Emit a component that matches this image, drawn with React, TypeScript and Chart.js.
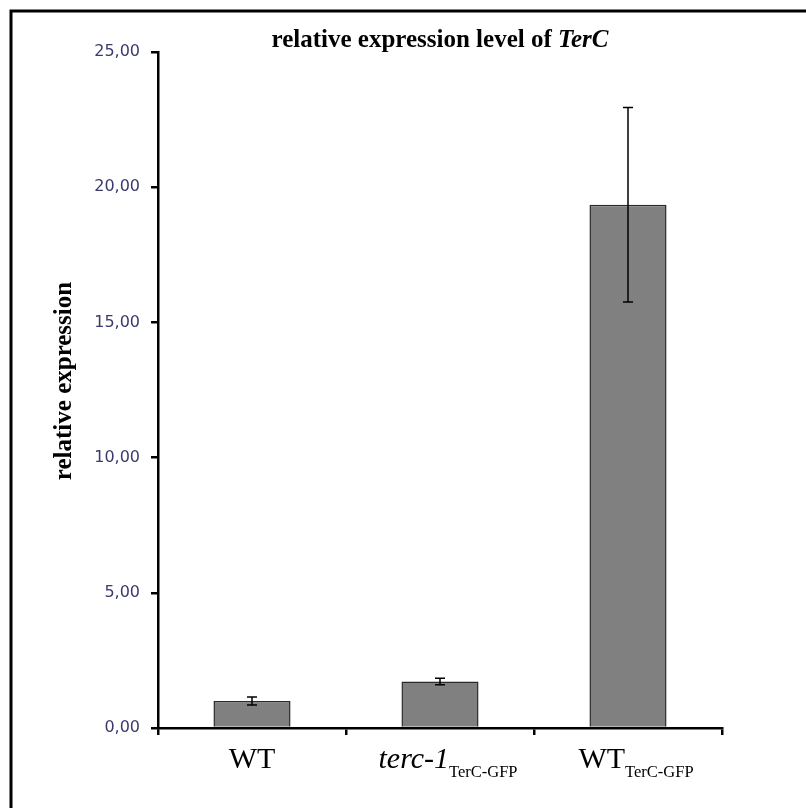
import React, { useEffect, useRef } from "react";
import { Chart, registerables } from "chart.js";

Chart.register(...registerables);

const categories = ["WT", "terc-1", "WT"];
const subscripts = ["", "TerC-GFP", "TerC-GFP"];
const italicMain = [false, true, false];
const values = [1.0, 1.72, 19.35];
const errors = [0.15, 0.12, 3.6];
const yMin = 0;
const yMax = 25;
const yStep = 5;
const titleMain = "relative expression level of ";
const titleItalic = "TerC";
const yTitle = "relative expression";

const SERIF = "'Liberation Serif', 'Times New Roman', serif";

const errorBarPlugin = {
  id: "errorBars",
  afterDatasetsDraw(chart: any) {
    const ctx = chart.ctx;
    const meta = chart.getDatasetMeta(0);
    const ys = chart.scales.y;
    ctx.save();
    ctx.strokeStyle = "#000";
    ctx.lineWidth = 1.5;
    meta.data.forEach((el: any, i: number) => {
      const x = el.x;
      const top = ys.getPixelForValue(values[i] + errors[i]);
      const bot = ys.getPixelForValue(values[i] - errors[i]);
      const cap = 5;
      ctx.beginPath();
      ctx.moveTo(x, top);
      ctx.lineTo(x, bot);
      ctx.moveTo(x - cap, top);
      ctx.lineTo(x + cap, top);
      ctx.moveTo(x - cap, bot);
      ctx.lineTo(x + cap, bot);
      ctx.stroke();
    });
    ctx.restore();
  },
};

const textPlugin = {
  id: "texts",
  afterDraw(chart: any) {
    const ctx = chart.ctx;
    const area = chart.chartArea;
    const xs = chart.scales.x;
    ctx.save();
    ctx.fillStyle = "#000";
    ctx.textBaseline = "alphabetic";

    // frame
    ctx.strokeStyle = "#000";
    ctx.lineWidth = 3;
    ctx.beginPath();
    ctx.moveTo(11, chart.height);
    ctx.lineTo(11, 11);
    ctx.lineTo(chart.width, 11);
    ctx.stroke();

    // title
    const fMain = `bold 25px ${SERIF}`;
    const fIt = `italic bold 25px ${SERIF}`;
    ctx.font = fMain;
    const w1 = ctx.measureText(titleMain).width;
    ctx.font = fIt;
    const w2 = ctx.measureText(titleItalic).width;
    const cx = (area.left + area.right) / 2;
    const sx = cx - (w1 + w2) / 2;
    ctx.textAlign = "left";
    ctx.font = fMain;
    ctx.fillText(titleMain, sx, 47);
    ctx.font = fIt;
    ctx.fillText(titleItalic, sx + w1, 47);

    // y title
    ctx.save();
    ctx.translate(71, 381);
    ctx.rotate(-Math.PI / 2);
    ctx.font = `bold 25px ${SERIF}`;
    ctx.textAlign = "center";
    ctx.fillText(yTitle, 0, 0);
    ctx.restore();

    // x labels
    categories.forEach((lab, i) => {
      const c = xs.getPixelForValue(i);
      const fm = `${italicMain[i] ? "italic " : ""}30px ${SERIF}`;
      const fs = `16.5px ${SERIF}`;
      ctx.font = fm;
      const mw = ctx.measureText(lab).width;
      ctx.font = fs;
      const sw = subscripts[i] ? ctx.measureText(subscripts[i]).width : 0;
      const start = c - (mw + sw) / 2 + (subscripts[i] ? 8 : 0);
      ctx.textAlign = "left";
      ctx.font = fm;
      ctx.fillText(lab, start, 768);
      if (subscripts[i]) {
        ctx.font = fs;
        ctx.fillText(subscripts[i], start + mw, 777);
      }
    });
    ctx.restore();
  },
};

export default function App() {
  const ref = useRef<HTMLCanvasElement>(null);
  useEffect(() => {
    if (!ref.current) return;
    const chart = new Chart(ref.current, {
      type: "bar",
      data: {
        labels: categories,
        datasets: [
          {
            data: values,
            backgroundColor: "#808080",
            borderColor: "#2a2a2a",
            borderWidth: 1.5,
            barPercentage: 0.41,
            categoryPercentage: 1,
          },
        ],
      },
      options: {
        responsive: false,
        animation: false,
        layout: { padding: { left: 0, top: 52, right: 84, bottom: 0 } },
        plugins: {
          legend: { display: false },
          tooltip: { enabled: false },
          title: { display: false },
        },
        scales: {
          x: {
            grid: {
              offset: true,
              drawOnChartArea: false,
              drawTicks: true,
              tickLength: 7,
              color: "#000",
              lineWidth: 2.5,
            },
            border: { display: true, color: "#000", width: 2.5 },
            ticks: { callback: () => "" },
            afterFit: (s: any) => {
              s.height = 80;
            },
          },
          y: {
            min: yMin,
            max: yMax,
            ticks: {
              stepSize: yStep,
              callback: (v: any) => Number(v).toFixed(2).replace(".", ","),
              font: { family: "'DejaVu Sans', sans-serif", size: 16 },
              color: "#3a3a6e",
              padding: 11,
            },
            grid: {
              drawOnChartArea: false,
              drawTicks: true,
              tickLength: 7,
              color: "#000",
              lineWidth: 2.5,
            },
            border: { display: true, color: "#000", width: 2.5 },
            afterFit: (s: any) => {
              s.width = 158;
            },
          },
        },
      },
      plugins: [errorBarPlugin, textPlugin],
    });
    return () => chart.destroy();
  }, []);
  return (
    <div style={{ position: "absolute", left: 0, top: 0, width: 806, height: 808, background: "#fff" }}>
      <canvas ref={ref} width={806} height={808} />
    </div>
  );
}
